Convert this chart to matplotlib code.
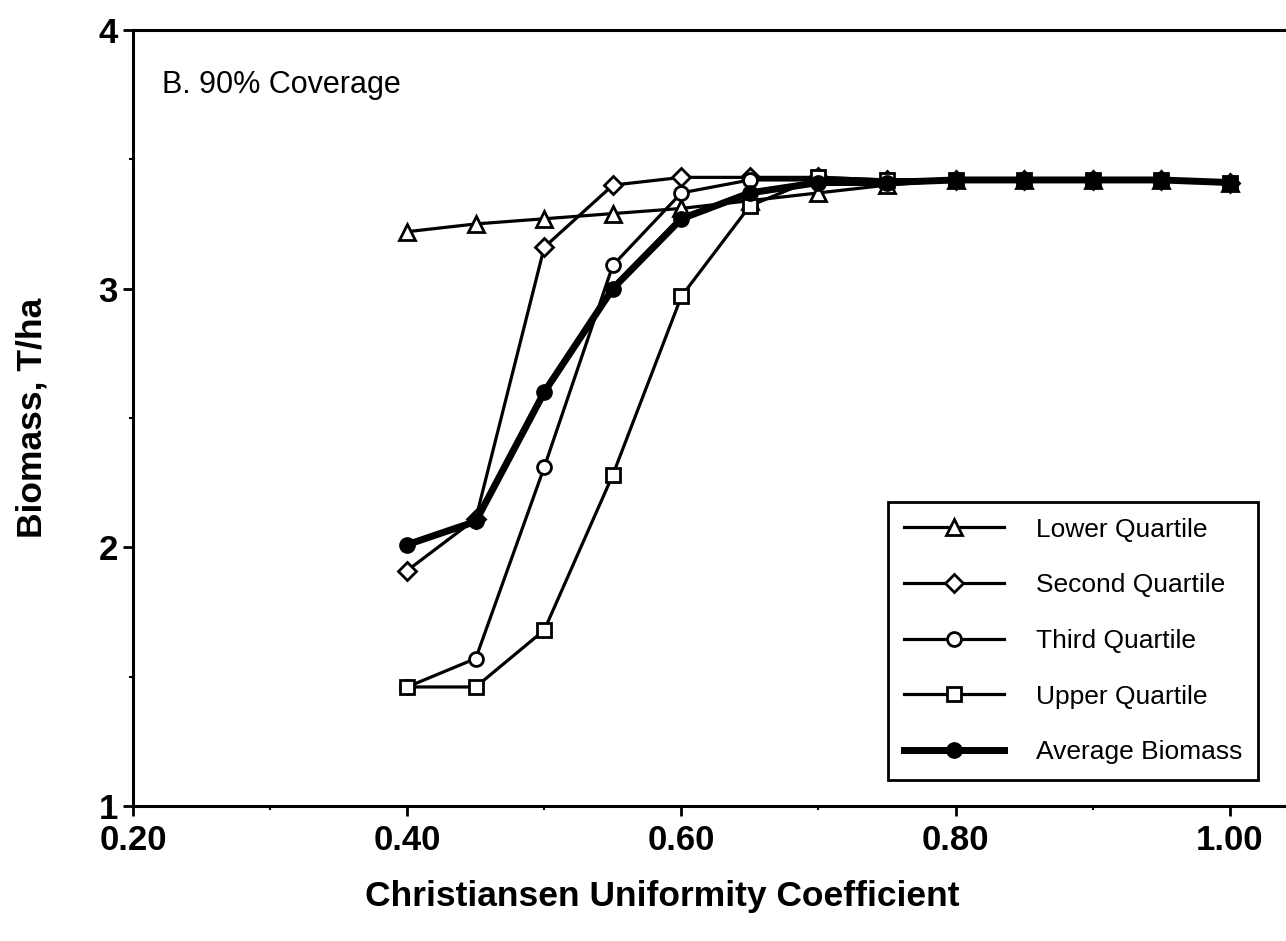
import matplotlib
matplotlib.use('Agg')
import matplotlib.pyplot as plt
from matplotlib.ticker import MultipleLocator, FormatStrFormatter

plt.rcParams['font.family'] = ['Liberation Sans', 'DejaVu Sans']

cu = [0.40, 0.45, 0.50, 0.55, 0.60, 0.65, 0.70, 0.75, 0.80, 0.85, 0.90, 0.95, 1.00]
lower = [3.22, 3.25, 3.27, 3.29, 3.31, 3.34, 3.37, 3.40, 3.42, 3.42, 3.42, 3.42, 3.41]
second = [1.91, 2.11, 3.16, 3.40, 3.43, 3.43, 3.43, 3.42, 3.42, 3.42, 3.42, 3.42, 3.41]
third = [1.46, 1.57, 2.31, 3.09, 3.37, 3.42, 3.42, 3.42, 3.42, 3.42, 3.42, 3.42, 3.41]
upper = [1.46, 1.46, 1.68, 2.28, 2.97, 3.32, 3.43, 3.42, 3.42, 3.42, 3.42, 3.42, 3.41]
average = [2.01, 2.10, 2.60, 3.00, 3.27, 3.37, 3.41, 3.41, 3.42, 3.42, 3.42, 3.42, 3.41]

fig = plt.figure(figsize=(12.86, 9.41), dpi=100)
ax = fig.add_axes([0.1034, 0.1435, 0.8966, 0.8247])

thin = dict(color='black', lw=2.3, mfc='white', mec='black', mew=2.0)
ax.plot(cu, lower, marker='^', ms=11, label='Lower Quartile', **thin)
ax.plot(cu, second, marker='D', ms=9, label='Second Quartile', **thin)
ax.plot(cu, third, marker='o', ms=10, label='Third Quartile', **thin)
ax.plot(cu, upper, marker='s', ms=10, label='Upper Quartile', **thin)
ax.plot(cu, average, color='black', lw=5, marker='o', ms=11, mfc='black',
        label='Average Biomass')

ax.set_xlim(0.2, 1.041)
ax.set_ylim(1, 4)
ax.xaxis.set_major_locator(MultipleLocator(0.2))
ax.xaxis.set_minor_locator(MultipleLocator(0.1))
ax.xaxis.set_major_formatter(FormatStrFormatter('%.2f'))
ax.yaxis.set_major_locator(MultipleLocator(1))
ax.yaxis.set_minor_locator(MultipleLocator(0.5))

ax.spines['right'].set_visible(False)
for s in ['left', 'bottom', 'top']:
    ax.spines[s].set_linewidth(2.2)
ax.tick_params(which='major', direction='out', length=7, width=2, pad=4,
               labelsize=25)
ax.tick_params(axis='x', which='major', pad=6)
ax.tick_params(which='minor', direction='out', length=3, width=1.5)
for lab in ax.get_xticklabels() + ax.get_yticklabels():
    lab.set_fontweight('bold')

ax.set_xlabel('Christiansen Uniformity Coefficient', fontsize=25.5, fontweight='bold')
ax.set_ylabel('Biomass, T/ha', fontsize=25.5, fontweight='bold')
ax.xaxis.set_label_coords(0.459, -0.095)
ax.yaxis.set_label_coords(-0.073, 0.5)

ax.text(0.025, 0.919, 'B. 90% Coverage', transform=ax.transAxes,
        fontsize=22, va='baseline', ha='left')

leg = ax.legend(loc='upper right', bbox_to_anchor=(0.976, 0.392),
                borderaxespad=0, fontsize=19, handlelength=3.8,
                handletextpad=1.2, labelspacing=1.2, borderpad=0.6,
                fancybox=False, numpoints=1, framealpha=1)
leg.get_frame().set_edgecolor('black')
leg.get_frame().set_linewidth(2)

fig.savefig('out.png', dpi=100)
